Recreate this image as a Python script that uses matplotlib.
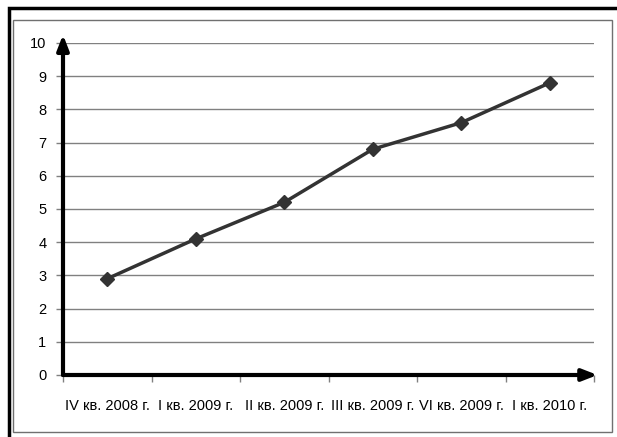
import matplotlib
matplotlib.use("Agg")
import matplotlib.pyplot as plt
from matplotlib.patches import Rectangle
from matplotlib import font_manager

categories = ["IV кв. 2008 г.", "I кв. 2009 г.", "II кв. 2009 г.",
              "III кв. 2009 г.", "VI кв. 2009 г.", "I кв. 2010 г."]
values = [2.9, 4.1, 5.2, 6.8, 7.6, 8.8]
yticks = list(range(0, 11))

names = {f.name for f in font_manager.fontManager.ttflist}
fam = "Liberation Sans Narrow" if "Liberation Sans Narrow" in names else "Liberation Sans"

W, H = 617, 437
fig = plt.figure(figsize=(W / 100, H / 100), dpi=100)

# frames
fig.patches.append(Rectangle((8.5 / W, -0.1), 1.2, (H - 8.5) / H + 0.1,
                             transform=fig.transFigure, fill=False,
                             edgecolor="black", linewidth=2.5))
fig.patches.append(Rectangle((12.5 / W, (H - 432) / H), (612 - 12.5) / W, (432 - 20) / H,
                             transform=fig.transFigure, fill=False,
                             edgecolor="#707070", linewidth=1.0))

x0, x1, yb, yt = 63, 594, 375, 43
ax = fig.add_axes([x0 / W, 1 - yb / H, (x1 - x0) / W, (yb - yt) / H])
n = len(categories)
xs = list(range(n))
ax.set_xlim(-0.5, n - 0.5)
ax.set_ylim(0, 10)
ax.set_yticks(yticks)
ax.yaxis.grid(True, color="#808080", linewidth=1.0)
ax.set_axisbelow(True)
for s in ax.spines.values():
    s.set_visible(False)

ax.plot(xs, values, color="#333333", linewidth=2.5, marker="D",
        markersize=7, markerfacecolor="#333333", markeredgecolor="#333333", zorder=3)

# arrows for axes
ax.annotate("", xy=(n - 0.5 + 0.04, 0), xytext=(-0.5, 0),
            xycoords="data", textcoords="data",
            arrowprops=dict(arrowstyle="-|>,head_length=0.9,head_width=0.35",
                            color="black", lw=3, shrinkA=0, shrinkB=0),
            annotation_clip=False, zorder=4)
ax.annotate("", xy=(-0.5, 10.25), xytext=(-0.5, 0),
            xycoords="data", textcoords="data",
            arrowprops=dict(arrowstyle="-|>,head_length=0.9,head_width=0.35",
                            color="black", lw=3, shrinkA=0, shrinkB=0),
            annotation_clip=False, zorder=4)

ax.set_xticks([i - 0.5 for i in range(n + 1)], minor=False)
ax.set_xticklabels([])
ax.set_xticks(xs, minor=True)
ax.set_xticklabels(categories, minor=True, fontsize=10.5, family=fam)
ax.tick_params(axis="x", which="major", length=5, color="#808080", width=1)
ax.tick_params(axis="x", which="minor", length=0, pad=17)
ax.tick_params(axis="y", length=5, color="#808080", width=1, labelsize=10.5, pad=7)
for lab in ax.get_yticklabels():
    lab.set_family("Liberation Sans")

fig.savefig("out.png", dpi=100)
